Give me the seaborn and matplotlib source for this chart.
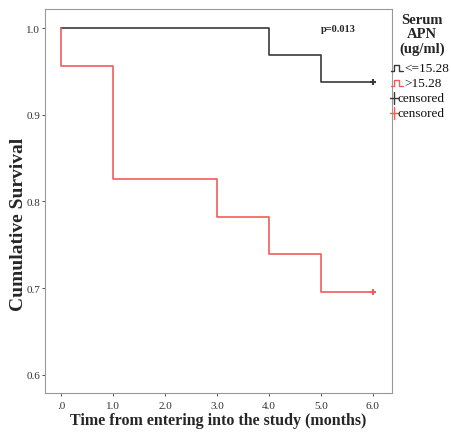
import matplotlib
matplotlib.use("Agg")
import matplotlib.pyplot as plt
import seaborn as sns
import pandas as pd
from matplotlib.lines import Line2D

sns.set_style("white")
plt.rcParams['font.family'] = ['Liberation Serif', 'DejaVu Serif']

# Data
low_time = [0.0, 4.0, 5.0, 6.0]
low_surv = [1.0, 0.96875, 0.9375, 0.9375]
high_time = [0.0, 0.0, 1.0, 3.0, 4.0, 5.0, 6.0]
high_surv = [1.0, 0.9565, 0.8261, 0.7826, 0.7391, 0.6957, 0.6957]
groups = ["<=15.28", ">15.28"]
xticks = [0, 1, 2, 3, 4, 5, 6]
xticklabels = [".0", "1.0", "2.0", "3.0", "4.0", "5.0", "6.0"]
yticks = [0.6, 0.7, 0.8, 0.9, 1.0]
yticklabels = ["0.6", "0.7", "0.8", "0.9", "1.0"]

df = pd.DataFrame({
    "time": low_time + high_time,
    "surv": low_surv + high_surv,
    "group": [groups[0]] * len(low_time) + [groups[1]] * len(high_time),
})

black = "#3a3a3a"
red = "#f25c5c"
palette = {groups[0]: black, groups[1]: red}

fig = plt.figure(figsize=(4.51, 4.35), dpi=100)
ax = fig.add_axes([45/451, 1-394/435, (392-45)/451, (394-10)/435])

sns.lineplot(data=df, x="time", y="surv", hue="group", palette=palette,
             drawstyle="steps-post", estimator=None, sort=False,
             linewidth=1.2, legend=False, ax=ax)

# censored marks at end
ax.plot([low_time[-1]], [low_surv[-1]], marker="+", color=black, ms=4, mew=1.5, ls="none")
ax.plot([high_time[-1]], [high_surv[-1]], marker="+", color=red, ms=4, mew=1.5, ls="none")

ax.set_xlim(-0.31, 6.37)
ax.set_ylim(0.579, 1.022)
ax.set_xticks(xticks)
ax.set_xticklabels(xticklabels)
ax.set_yticks(yticks)
ax.set_yticklabels(yticklabels)
ax.tick_params(axis="both", labelsize=8, colors="#333333", length=2, width=0.6,
               direction="out", left=True, bottom=True)
ax.tick_params(axis="x", pad=4)
ax.tick_params(axis="y", pad=1.5)
for s in ax.spines.values():
    s.set_color("#999999")
    s.set_linewidth(0.8)

ax.set_xlabel("Time from entering into the study (months)", fontsize=11.5, fontweight="bold")
ax.set_ylabel("Cumulative Survival", fontsize=14, fontweight="bold")
ax.xaxis.set_label_coords(0.5, -0.05)
ax.yaxis.set_label_coords(-0.052, 0.443)

ax.text(5.33, 0.999, "p=0.013", fontsize=7.5, fontweight="bold", ha="center", va="center")

# Legend (manual, outside right)
def fx(px):
    return px / 451
def fy(py):
    return 1 - py / 435

fig.text(fx(422), fy(20), "Serum", fontsize=10.5, fontweight="bold", ha="center", va="center")
fig.text(fx(422), fy(34), "APN", fontsize=10.5, fontweight="bold", ha="center", va="center")
fig.text(fx(422), fy(49), "(ug/ml)", fontsize=10.5, fontweight="bold", ha="center", va="center")

def step_icon(y, color):
    xs = [391, 394, 394, 399, 399, 403]
    ys = [y + 3, y + 3, y - 3, y - 3, y + 3, y + 3]
    fig.add_artist(Line2D([fx(v) for v in xs], [fy(v) for v in ys], color=color, lw=1.0))

def plus_icon(y, color):
    fig.add_artist(Line2D([fx(390), fx(398)], [fy(y), fy(y)], color=color, lw=1.0))
    fig.add_artist(Line2D([fx(393.5), fx(393.5)], [fy(y - 6), fy(y + 6)], color=color, lw=1.0))

items = [(69, groups[0], black, "step", 404), (84, groups[1], red, "step", 404),
         (99, "censored", black, "plus", 397), (114, "censored", red, "plus", 397)]
for y, label, col, kind, tx in items:
    if kind == "step":
        step_icon(y, col)
    else:
        plus_icon(y, col)
    fig.text(fx(tx), fy(y), label, fontsize=9.5, ha="left", va="center", color="#111111")

fig.savefig("out.png", dpi=100)
